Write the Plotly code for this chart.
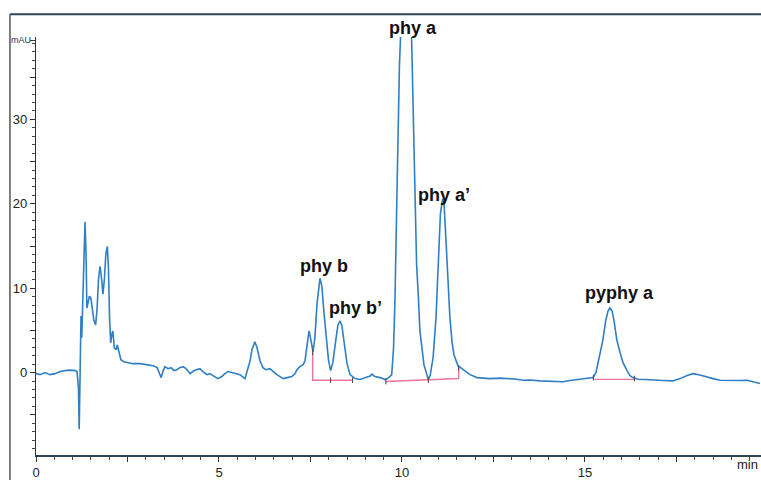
import plotly.graph_objects as go

# Retention time (min) and absorbance (mAU)
time_min = [0.00, 0.11, 0.25, 0.38, 0.52, 0.66, 0.79, 0.93, 1.07, 1.12,
            1.16, 1.18, 1.21, 1.23, 1.25, 1.27, 1.28, 1.31, 1.34, 1.37,
            1.39, 1.42, 1.46, 1.50, 1.54, 1.58, 1.63, 1.67, 1.71, 1.75,
            1.79, 1.83, 1.87, 1.91, 1.95, 1.98, 2.01, 2.04, 2.08, 2.10,
            2.14, 2.19, 2.22, 2.27, 2.32, 2.40, 2.51, 2.65, 2.84, 3.03,
            3.20, 3.31, 3.37, 3.42, 3.47, 3.52, 3.61, 3.69, 3.77, 3.85,
            3.93, 4.02, 4.10, 4.21, 4.32, 4.40, 4.48, 4.56, 4.67, 4.75,
            4.86, 4.97, 5.08, 5.16, 5.25, 5.36, 5.46, 5.57, 5.71, 5.79,
            5.85, 5.90, 5.98, 6.04, 6.12, 6.20, 6.28, 6.39, 6.50, 6.58,
            6.67, 6.75, 6.86, 6.99, 7.08, 7.13, 7.21, 7.30, 7.35, 7.40,
            7.46, 7.50, 7.57, 7.62, 7.68, 7.76, 7.81, 7.87, 7.94, 7.99,
            8.05, 8.11, 8.20, 8.25, 8.31, 8.36, 8.44, 8.50, 8.58, 8.72,
            8.85, 8.99, 9.13, 9.18, 9.26, 9.40, 9.54, 9.64, 9.72, 9.77,
            9.81, 9.86, 9.89, 9.93, 9.96, 10.00, 10.11, 10.21, 10.26, 10.31,
            10.36, 10.40, 10.45, 10.49, 10.60, 10.66, 10.72, 10.77, 10.85, 10.93,
            11.00, 11.05, 11.11, 11.15, 11.20, 11.26, 11.31, 11.37, 11.42, 11.53,
            11.72, 11.86, 12.05, 12.27, 12.40, 12.68, 12.87, 13.09, 13.31, 13.50,
            13.77, 14.04, 14.40, 14.59, 14.86, 15.14, 15.22, 15.30, 15.38, 15.44,
            15.49, 15.57, 15.63, 15.68, 15.74, 15.79, 15.87, 15.96, 16.04, 16.15,
            16.23, 16.31, 16.45, 16.64, 16.86, 17.13, 17.40, 17.60, 17.79, 17.95,
            18.14, 18.33, 18.50, 18.69, 19.04, 19.23, 19.43, 19.59, 19.78]
signal_mau = [-0.12, -0.24, 0.00, -0.24, -0.12, 0.12, 0.24, 0.29, 0.24, 0.12,
              -1.76, -6.71, 1.18, 6.71, 4.12, 7.06, 10.00, 15.88, 17.88, 13.53,
              7.65, 8.24, 9.06, 8.82, 7.41, 6.24, 5.65, 7.65, 11.18, 12.59,
              11.18, 9.29, 11.18, 14.12, 14.94, 12.35, 6.47, 3.53, 4.71, 4.94,
              2.94, 2.71, 3.29, 2.35, 1.53, 1.29, 1.18, 1.06, 1.06, 0.94,
              0.82, 0.59, 0.00, -0.59, 0.12, 0.71, 0.47, 0.59, 0.24, 0.35,
              0.59, 0.71, 0.47, -0.12, 0.24, 0.35, 0.47, 0.12, -0.24, -0.12,
              -0.47, -0.71, -0.47, -0.12, 0.12, 0.00, -0.12, -0.24, -0.71, 0.35,
              1.41, 2.71, 3.65, 2.94, 1.41, 0.59, 0.35, 0.47, 0.00, -0.24,
              -0.47, -0.71, -0.59, -0.47, -0.12, 0.35, 0.71, 0.94, 1.41, 2.94,
              4.94, 4.12, 2.47, 4.12, 8.24, 11.18, 10.24, 7.06, 4.12, 1.53,
              0.24, 1.18, 4.12, 5.65, 6.12, 5.53, 2.94, 1.06, -0.24, -0.71,
              -0.82, -0.59, -0.41, -0.18, -0.47, -0.59, -0.82, -0.59, -0.24, 2.94,
              8.82, 20.59, 30.00, 36.27, 39.65, 50.00, 62.00, 50.00, 39.65, 28.47,
              20.59, 12.71, 8.82, 4.94, 0.94, -0.12, -0.82, -0.35, 1.76, 6.47,
              13.53, 18.82, 20.59, 20.00, 15.88, 10.00, 6.47, 3.53, 2.12, 0.82,
              0.24, -0.24, -0.59, -0.65, -0.71, -0.65, -0.67, -0.76, -0.91, -0.88,
              -0.98, -1.00, -1.09, -0.94, -0.79, -0.71, -0.59, 0.00, 1.53, 2.71,
              3.88, 6.24, 7.29, 7.65, 7.29, 6.24, 3.88, 2.35, 1.18, 0.24,
              -0.35, -0.59, -0.79, -0.82, -0.91, -0.94, -0.98, -0.71, -0.35, -0.12,
              -0.29, -0.47, -0.71, -0.91, -0.98, -0.94, -0.91, -1.12, -1.29]

# Integration baselines (pink)
base1_t = [7.56, 7.56, 8.65]
base1_a = [2.40, -0.90, -0.90]
base2_t = [9.56, 10.72, 11.55, 11.55]
base2_a = [-1.06, -0.90, -0.70, 0.60]
base3_t = [15.23, 16.35]
base3_a = [-0.80, -0.80]

# Integration event marks
mark_t = [7.56, 8.05, 8.65, 9.56, 10.72, 11.55, 15.23, 16.35]
mark_a = [2.40, -0.90, -0.90, -1.06, -0.90, 0.55, -0.60, -0.70]

# Peak labels
peak_names = ["phy a", "phy a\u2019", "phy b", "phy b\u2019", "pyphy a"]
peak_t = [10.29, 11.15, 7.88, 8.74, 15.94]
peak_a = [40.85, 21.03, 12.61, 7.71, 9.39]

# Axis ticks
x_tickvals = [0, 2.5, 5, 7.5, 10, 12.5, 15, 17.5]
x_ticktext = ["0", "", "5", "", "10", "", "15", ""]
y_tickvals = [-5, 0, 5, 10, 15, 20, 25, 30, 35, 39.4]
y_ticktext = ["", "0", "", "10", "", "20", "", "30", "", ""]

X_RANGE = [0, 19.81]
Y_RANGE = [-9.76, 39.76]

fig = go.Figure()
fig.add_trace(go.Scatter(x=time_min, y=signal_mau, mode="lines",
                         line=dict(color="#2f7fc4", width=1.6), hoverinfo="skip"))
pink = "#f2739c"
for bt, ba in [(base1_t, base1_a), (base2_t, base2_a), (base3_t, base3_a)]:
    fig.add_trace(go.Scatter(x=bt, y=ba, mode="lines",
                             line=dict(color=pink, width=1.4), hoverinfo="skip"))
fig.add_trace(go.Scatter(x=mark_t, y=mark_a, mode="markers",
                         marker=dict(symbol="line-ns", size=4,
                                     line=dict(color="#444444", width=1)),
                         hoverinfo="skip"))

for name, t, a in zip(peak_names, peak_t, peak_a):
    # paper coordinates so labels above the axis range are still drawn
    xp = (t - X_RANGE[0]) / (X_RANGE[1] - X_RANGE[0])
    yp = (a - Y_RANGE[0]) / (Y_RANGE[1] - Y_RANGE[0])
    fig.add_annotation(x=xp, y=yp, xref="paper", yref="paper",
                       text="<b>" + name + "</b>", showarrow=False,
                       font=dict(family="Liberation Sans, Arial, sans-serif",
                                 size=18, color="#111111"),
                       xanchor="center", yanchor="middle")

# mAU unit label and "min" label
fig.add_annotation(x=-0.004, y=0.993, xref="paper", yref="paper", text="mAU",
                   showarrow=False, xanchor="right", yanchor="middle",
                   font=dict(family="Liberation Sans, Arial", size=9, color="#333333"))
fig.add_annotation(x=0.999, y=-0.022, xref="paper", yref="paper", text="min",
                   showarrow=False, xanchor="right", yanchor="middle",
                   font=dict(family="Liberation Sans, Arial", size=13, color="#222222"))

# scanned frame lines
fig.add_shape(type="line", xref="paper", yref="paper", x0=-0.0359, x1=1.01,
              y0=1.0546, y1=1.0546, line=dict(color="#2e4454", width=2))
fig.add_shape(type="line", xref="paper", yref="paper", x0=-0.0359, x1=-0.0359,
              y0=-0.07, y1=1.0546, line=dict(color="#555555", width=1.5))

axis_font = dict(family="Liberation Sans, Arial", size=13, color="#222222")
fig.update_layout(
    width=761, height=480,
    margin=dict(l=36, r=0, t=37, b=22),
    paper_bgcolor="white", plot_bgcolor="white",
    showlegend=False,
    xaxis=dict(range=X_RANGE, showgrid=False, zeroline=False,
               showline=True, linecolor="#2e4454", linewidth=1.5,
               ticks="outside", ticklen=5, tickcolor="#333333",
               tickmode="array", tickvals=x_tickvals, ticktext=x_ticktext,
               tickfont=axis_font,
               minor=dict(ticks="outside", ticklen=3, tickmode="linear",
                          tick0=0, dtick=0.5, tickcolor="#444444")),
    yaxis=dict(range=Y_RANGE, showgrid=False, zeroline=False,
               showline=True, linecolor="#333333", linewidth=1.2,
               ticks="outside", ticklen=5, tickcolor="#333333",
               tickmode="array", tickvals=y_tickvals, ticktext=y_ticktext,
               tickfont=axis_font,
               minor=dict(ticks="outside", ticklen=3, tickmode="linear",
                          tick0=0, dtick=1, tickcolor="#444444")),
)

fig.write_html("out.html", config={"displayModeBar": False},
               post_script="document.body.style.margin='0';document.body.style.overflow='hidden';")
